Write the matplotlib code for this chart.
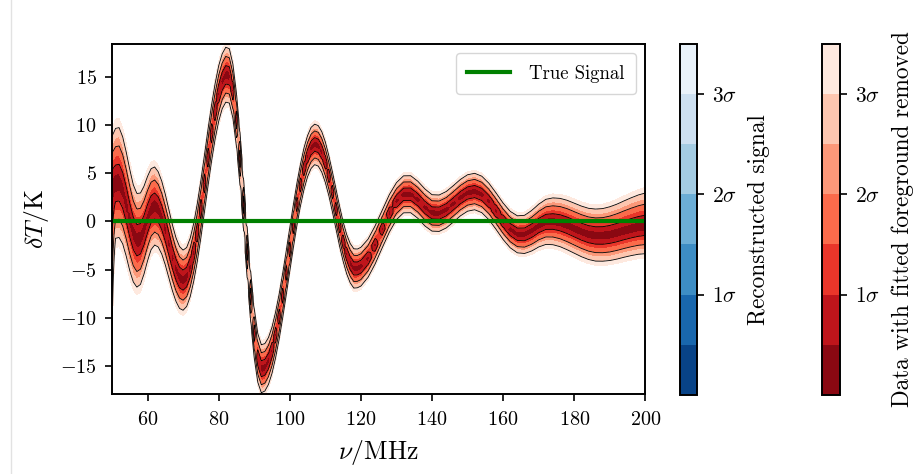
import numpy as np
import matplotlib.pyplot as plt
from matplotlib.colors import BoundaryNorm, ListedColormap
import matplotlib.cm as cm

plt.rcParams['font.family'] = 'serif'
plt.rcParams['font.serif'] = ['cmr10']
plt.rcParams['mathtext.fontset'] = 'cm'
plt.rcParams['axes.formatter.use_mathtext'] = True

# frequency nodes (MHz)
freq = list(range(50, 121)) + list(range(122, 201, 2))

# median of the residual (data - fitted foreground), K
resid_med = [3.60, 3.95, 4.03, 3.23, 1.80, 0.14, -1.25, -1.96, -1.80, -0.91,
             0.29, 1.27, 1.60, 1.25, 0.39, -0.86, -2.32, -3.78, -5.00, -5.82,
             -6.10, -5.77, -4.77, -3.19, -1.13, 1.29, 3.93, 6.61, 9.16, 11.42,
             13.26, 14.55, 15.22, 15.10, 13.53, 10.53, 6.49, 1.74, -3.18, -7.80,
             -11.59, -14.16, -15.29, -15.14, -14.49, -13.37, -11.80, -9.90, -7.71, -5.35,
             -2.92, -0.51, 1.76, 3.77, 5.47, 6.77, 7.63, 7.99, 7.84, 7.21,
             6.14, 4.72, 3.05, 1.28, -0.49, -2.09, -3.40, -4.34, -4.88, -4.88,
             -4.70,
             -3.83, -2.44, -0.79, 0.83, 2.10, 2.81, 2.82, 2.25, 1.45, 0.88,
             0.85, 1.21, 1.82, 2.47, 2.95, 3.10, 2.80, 2.07, 1.07, 0.01,
             -0.85, -1.34, -1.35, -0.97, -0.43, -0.05, -0.02, -0.16, -0.42, -0.75,
             -1.08, -1.34, -1.48, -1.49, -1.39, -1.21, -0.99, -0.79, -0.62, -0.50]

# 1 sigma width above / below the median, K
sig_up = [1.75, 1.90, 1.90, 1.85, 1.80, 1.75, 1.68, 1.62, 1.58, 1.52,
          1.46, 1.40, 1.35, 1.30, 1.26, 1.22, 1.18, 1.14, 1.10, 1.07,
          1.04, 1.02, 1.01, 1.00, 1.00, 0.99, 0.98, 0.98, 0.97, 0.96,
          0.96, 0.95, 0.95, 0.94, 0.93, 0.92, 0.91, 0.90, 0.88, 0.87,
          0.85, 0.84, 0.83, 0.82, 0.81, 0.80, 0.79, 0.78, 0.77, 0.76,
          0.75, 0.74, 0.73, 0.72, 0.72, 0.71, 0.71, 0.70, 0.70, 0.70,
          0.70, 0.69, 0.69, 0.69, 0.69, 0.68, 0.68, 0.68, 0.68, 0.67,
          0.67,
          0.66, 0.66, 0.65, 0.65, 0.64, 0.64, 0.64, 0.64, 0.64, 0.63,
          0.63, 0.63, 0.63, 0.63, 0.63, 0.63, 0.63, 0.63, 0.63, 0.63,
          0.63, 0.64, 0.66, 0.70, 0.74, 0.78, 0.82, 0.85, 0.87, 0.88,
          0.89, 0.90, 0.92, 0.94, 0.97, 1.00, 1.04, 1.08, 1.12, 1.15]

sig_dn = [5.50, 1.90, 1.90, 1.85, 1.80, 1.75, 1.68, 1.62, 1.58, 1.52,
          1.46, 1.40, 1.35, 1.30, 1.26, 1.22, 1.18, 1.14, 1.10, 1.07,
          1.04, 1.02, 1.01, 1.00, 1.00, 0.99, 0.98, 0.98, 0.97, 0.96,
          0.96, 0.95, 0.95, 0.94, 0.93, 0.92, 0.91, 0.90, 0.88, 0.87,
          0.85, 0.84, 0.83, 0.82, 0.81, 0.80, 0.79, 0.78, 0.77, 0.76,
          0.75, 0.74, 0.73, 0.72, 0.72, 0.71, 0.71, 0.70, 0.70, 0.70,
          0.70, 0.69, 0.69, 0.69, 0.69, 0.68, 0.68, 0.68, 0.68, 0.67,
          0.67,
          0.66, 0.66, 0.65, 0.65, 0.64, 0.64, 0.64, 0.64, 0.64, 0.63,
          0.63, 0.63, 0.63, 0.63, 0.63, 0.63, 0.63, 0.63, 0.63, 0.63,
          0.63, 0.64, 0.66, 0.70, 0.74, 0.78, 0.80, 0.82, 0.84, 0.85,
          0.86, 0.87, 0.88, 0.88, 0.89, 0.90, 0.91, 0.92, 0.93, 0.95]

# true signal
freq_true = [50, 200]
true_signal = [0.0, 0.0]

sigma_levels = [0, 0.5, 1, 1.5, 2, 2.5, 3, 3.5]
sigma_ticks = [1, 2, 3]
sigma_labels = [r'$1\sigma$', r'$2\sigma$', r'$3\sigma$']

#-------------------------------------------------------------------------------
fig = plt.figure(figsize=(9.18, 4.74), dpi=100)
ax = fig.add_axes([0.122, 0.169, 0.581, 0.738])
cax_b = fig.add_axes([0.7407, 0.167, 0.0185, 0.7405])
cax_r = fig.add_axes([0.8954, 0.167, 0.0196, 0.7405])

# sigma field on a (T, nu) grid
nu = np.array(freq, dtype=float)
mu = np.array(resid_med)
su = np.array(sig_up)
sd = np.array(sig_dn)
T = np.linspace(-18.5, 18.8, 1500)[:, None]
Z = np.where(T > mu, (T - mu) / su, (mu - T) / sd)

cs = ax.contourf(nu, T.ravel(), Z, levels=sigma_levels, cmap='Reds_r',
                 vmin=0, vmax=3.5)
ax.contour(nu, T.ravel(), Z, levels=sigma_ticks, colors='k', linewidths=0.6)

ax.plot(freq_true, true_signal, color='green', lw=3, label='True Signal')

ax.set_xlim(50, 200)
ax.set_ylim(-17.9, 18.4)
ax.set_xticks([60, 80, 100, 120, 140, 160, 180, 200])
ax.set_yticks([-15, -10, -5, 0, 5, 10, 15])
ax.tick_params(labelsize=14.5, length=5, width=1.2)
ax.tick_params(axis='x', pad=7)
ax.tick_params(axis='y', pad=6)
for s in ax.spines.values():
    s.set_linewidth(1.4)
ax.set_xlabel(r'$\nu/\mathrm{MHz}$', fontsize=18.5, labelpad=7)
ax.set_ylabel(r'$\delta T/\mathrm{K}$', fontsize=18.5, labelpad=6)
ax.legend(loc='upper right', fontsize=13.5, handlelength=2.3, borderpad=0.6,
          handletextpad=1.0)

# colorbars
mid = (np.array(sigma_levels[:-1]) + 0.25) / 3.5
norm = BoundaryNorm(sigma_levels, len(mid))
sm_b = cm.ScalarMappable(norm=norm, cmap=ListedColormap(plt.cm.Blues_r(mid)))
cb_b = fig.colorbar(sm_b, cax=cax_b, ticks=sigma_ticks)
cb_r = fig.colorbar(cs, cax=cax_r, ticks=sigma_ticks)
for cb, lab in [(cb_b, 'Reconstructed signal'),
                (cb_r, 'Data with fitted foreground removed')]:
    cb.set_ticklabels(sigma_labels)
    cb.ax.minorticks_off()
    cb.ax.tick_params(labelsize=15.5, length=5, width=1.2, pad=6)
    cb.outline.set_linewidth(1.4)
    cb.set_label(lab, fontsize=16.8, labelpad=8)

# faint border line of the screenshot on the left
fig.add_artist(plt.Line2D([0.012, 0.012], [0, 1], transform=fig.transFigure,
                          color='#e2e2e2', lw=1))

plt.savefig('out.png', dpi=100)
